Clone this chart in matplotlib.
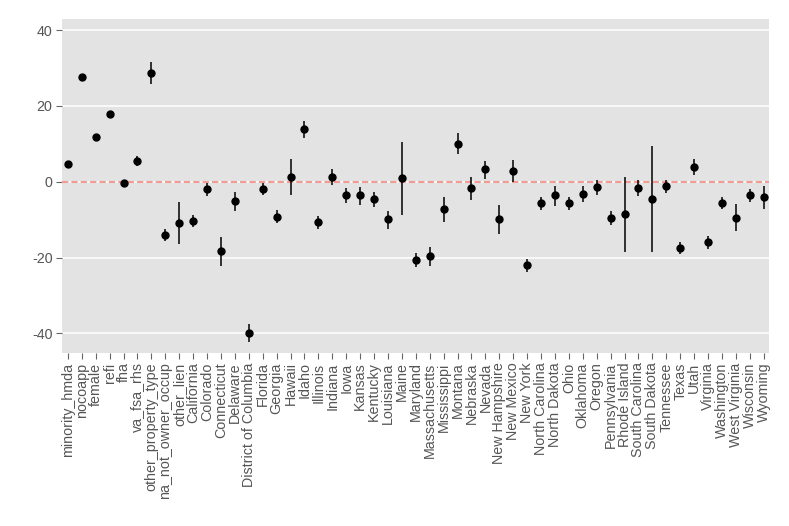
import matplotlib
matplotlib.use("Agg")
import matplotlib.pyplot as plt

labels = ["minority_hmda", "nocoapp", "female", "refi", "fha", "va_fsa_rhs",
          "other_property_type", "na_not_owner_occup", "other_lien",
          "California", "Colorado", "Connecticut", "Delaware", "District of Columbia",
          "Florida", "Georgia", "Hawaii", "Idaho", "Illinois", "Indiana", "Iowa",
          "Kansas", "Kentucky", "Louisiana", "Maine", "Maryland", "Massachusetts",
          "Mississippi", "Montana", "Nebraska", "Nevada", "New Hampshire",
          "New Mexico", "New York", "North Carolina", "North Dakota", "Ohio",
          "Oklahoma", "Oregon", "Pennsylvania", "Rhode Island", "South Carolina",
          "South Dakota", "Tennessee", "Texas", "Utah", "Virginia", "Washington",
          "West Virginia", "Wisconsin", "Wyoming"]

estimate = [4.7, 27.5, 11.9, 17.9, -0.3, 5.5,
            28.8, -14.0, -10.8,
            -10.3, -1.9, -18.4, -5.1, -39.9,
            -1.8, -9.2, 1.2, 13.9, -10.7, 1.3, -3.6,
            -3.6, -4.6, -9.9, 0.9, -20.6, -19.6,
            -7.2, 10.0, -1.6, 3.3, -9.9,
            2.9, -22.0, -5.6, -3.6, -5.7,
            -3.2, -1.5, -9.5, -8.5, -1.6,
            -4.6, -1.1, -17.4, 4.0, -16.0, -5.5,
            -9.5, -3.6, -4.1]

lower = [4.3, 27.1, 11.5, 17.5, -0.7, 4.1,
         25.9, -15.6, -16.3,
         -11.9, -3.7, -22.2, -7.6, -42.4,
         -3.5, -11.0, -3.6, 11.6, -12.5, -0.8, -5.7,
         -6.1, -6.6, -12.6, -8.9, -22.4, -22.3,
         -10.6, 7.2, -4.7, 0.7, -13.8,
         -0.1, -23.7, -7.5, -6.3, -7.5,
         -5.4, -3.5, -11.3, -18.5, -3.8,
         -18.6, -2.9, -19.1, 1.8, -17.8, -7.3,
         -13.0, -5.4, -7.3]

upper = [5.1, 27.9, 12.3, 18.3, 0.1, 6.9,
         31.6, -12.4, -5.4,
         -8.8, -0.3, -14.6, -2.7, -37.4,
         -0.3, -7.5, 5.9, 16.1, -9.1, 3.3, -1.6,
         -1.4, -2.6, -7.6, 10.5, -18.8, -17.1,
         -3.9, 12.8, 1.3, 5.6, -6.1,
         5.7, -20.3, -4.0, -1.1, -4.1,
         -1.1, 0.4, -7.8, 1.2, 0.4,
         9.4, 0.4, -15.8, 6.0, -14.4, -3.9,
         -6.0, -1.9, -1.1]

yticks = [-40, -20, 0, 20, 40]

plt.rcParams['font.family'] = ['Liberation Sans', 'DejaVu Sans']

fig = plt.figure(figsize=(7.89, 5.26), dpi=100)
ax = fig.add_axes([62.3 / 789, 1 - 352.7 / 526, 707 / 789, 333.4 / 526])
ax.set_facecolor('#E3E3E3')
for s in ax.spines.values():
    s.set_visible(False)

x = list(range(len(labels)))
for yt in yticks:
    ax.axhline(yt, color='white', lw=1.1, zorder=1)
ax.axhline(0, color='#F29A94', lw=1.5, ls=(0, (3, 1.5)), zorder=2)

ax.vlines(x, lower, upper, color='black', lw=1.1, zorder=3)
ax.plot(x, estimate, 'o', color='black', ms=5.0, zorder=4)

ax.set_xlim(-0.4, len(labels) - 0.6)
ax.set_ylim(-45.1, 42.85)
ax.set_yticks(yticks)
ax.set_yticklabels([str(v) for v in yticks])
ax.set_xticks(x)
ax.set_xticklabels(labels, rotation=90, ha='center', va='top')
ax.tick_params(axis='both', colors='#666666', labelcolor='#555555',
               labelsize=10.3, length=4.5, width=0.8, pad=2.5)

fig.savefig('out.png', dpi=100)
